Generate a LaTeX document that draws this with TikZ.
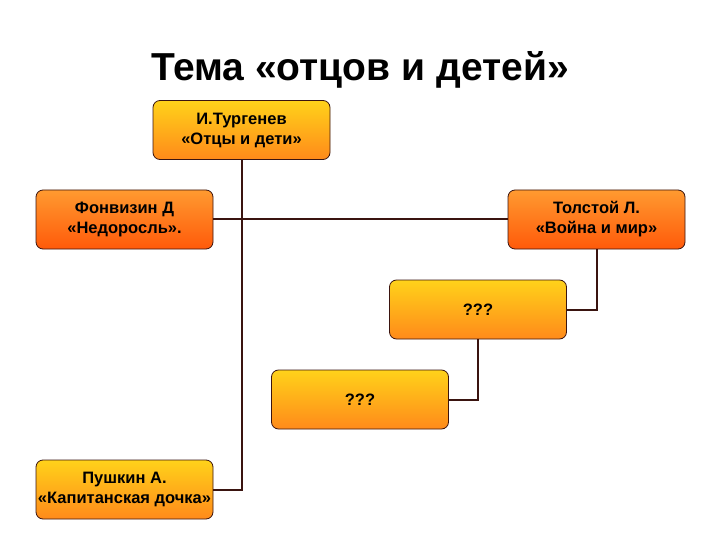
\documentclass[tikz,border=0pt]{standalone}
\usepackage{fontspec}
\setmainfont{Liberation Sans}
\definecolor{ln}{HTML}{3A1410}
\definecolor{yt}{HTML}{FFD21A}
\definecolor{yb}{HTML}{FF8A1A}
\definecolor{ot}{HTML}{FF9A30}
\definecolor{ob}{HTML}{FF5A0A}
\begin{document}
\begin{tikzpicture}[x=1pt,y=-1pt,
 bx/.style={draw=ln,line width=0.8pt,rounded corners=7pt,minimum width=177pt,minimum height=59pt,align=center,font=\fontsize{16.5}{20}\selectfont\bfseries,top color=yt,bottom color=yb,inner sep=0pt},
 obx/.style={bx,top color=ot,bottom color=ob},
 cn/.style={draw=ln,line width=2pt}]
\useasboundingbox (0,0) rectangle (720,540);
\node[font=\fontsize{39}{44}\selectfont\bfseries] (title) at (360,70) {Тема «отцов и детей»};
\node[bx] (tur) at (241.5,130) {И.Тургенев\\«Отцы и дети»};
\node[obx] (fon) at (124.5,219.5) {Фонвизин Д\\«Недоросль».};
\node[obx] (tol) at (596.5,219.5) {Толстой Л.\\«Война и мир»};
\node[bx] (q1) at (478,309.5) {???};
\node[bx] (q2) at (360,399.5) {???};
\node[bx] (pus) at (124.5,489.5) {Пушкин А.\\«Капитанская дочка»};
\draw[cn] (fon.east) -- (tol.west);
\draw[cn] (tur.south) |- (pus.east);
\draw[cn] (tol.south) |- (q1.east);
\draw[cn] (q1.south) |- (q2.east);
\end{tikzpicture}
\end{document}
